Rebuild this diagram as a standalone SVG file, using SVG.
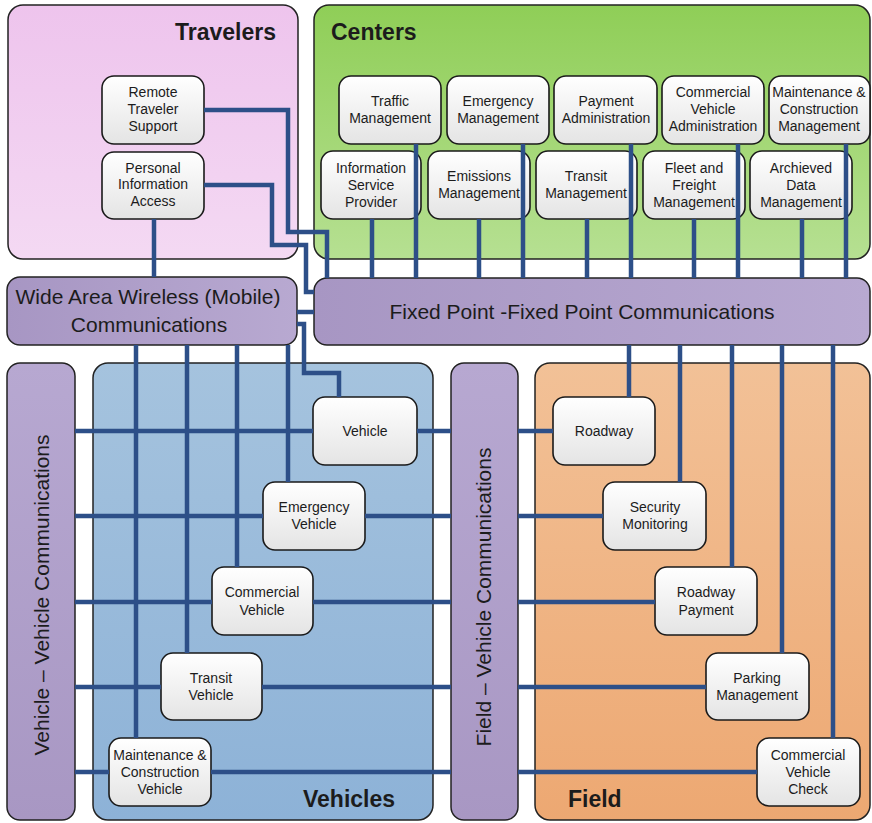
<svg xmlns="http://www.w3.org/2000/svg" width="872" height="823" viewBox="0 0 872 823">
<defs>
<linearGradient id="gNode" x1="0" y1="0" x2="0" y2="1"><stop offset="0" stop-color="#ffffff"/><stop offset="1" stop-color="#e4e4e4"/></linearGradient>
<linearGradient id="gTrav" x1="0" y1="0" x2="0" y2="1"><stop offset="0" stop-color="#eec4ed"/><stop offset="1" stop-color="#f4d9f3"/></linearGradient>
<linearGradient id="gCent" x1="0" y1="0" x2="0" y2="1"><stop offset="0" stop-color="#8fce57"/><stop offset="1" stop-color="#b6e092"/></linearGradient>
<linearGradient id="gCommH" x1="0" y1="0" x2="1" y2="0"><stop offset="0" stop-color="#a796c3"/><stop offset="1" stop-color="#b8a9d1"/></linearGradient>
<linearGradient id="gCommV" x1="0" y1="0" x2="0" y2="1"><stop offset="0" stop-color="#b7a8d1"/><stop offset="1" stop-color="#a897c3"/></linearGradient>
<linearGradient id="gVeh" x1="0" y1="0" x2="0" y2="1"><stop offset="0" stop-color="#a5c3de"/><stop offset="1" stop-color="#8db2d7"/></linearGradient>
<linearGradient id="gField" x1="0" y1="0" x2="0" y2="1"><stop offset="0" stop-color="#f2c197"/><stop offset="1" stop-color="#eda872"/></linearGradient>
</defs>
<style>
.grp{stroke:#222;stroke-width:1.5}
.node rect{fill:url(#gNode);stroke:#1a1a1a;stroke-width:1.6}
text{font-family:"Liberation Sans",Arial,sans-serif;fill:#1c1c1c}
.lbl{font-size:14px;text-anchor:middle}
.title{font-size:23px;font-weight:bold}
.comm{font-size:21px;text-anchor:middle}
.conn path{fill:none;stroke:#2d4f88;stroke-width:4.5}
</style>
<rect width="872" height="823" fill="#ffffff"/>

<!-- Group areas -->
<g id="travelers">
<rect class="grp" x="8" y="5" width="290" height="254" rx="15" fill="url(#gTrav)"/>
<text class="title" x="276" y="40" text-anchor="end">Travelers</text>
</g>
<g id="centers">
<rect class="grp" x="314" y="5" width="556" height="254" rx="15" fill="url(#gCent)"/>
<text class="title" x="331" y="40">Centers</text>
</g>
<g id="wide-area-wireless">
<rect class="grp" x="7" y="277" width="290" height="68" rx="13" fill="url(#gCommH)"/>
<text class="comm" x="148" y="304">Wide Area Wireless (Mobile)</text>
<text class="comm" x="149" y="332">Communications</text>
</g>
<g id="fixed-point">
<rect class="grp" x="314" y="278" width="556" height="67" rx="13" fill="url(#gCommH)"/>
<text class="comm" x="582" y="319">Fixed Point -Fixed Point Communications</text>
</g>
<g id="vehicle-vehicle">
<rect class="grp" x="7" y="363" width="68" height="457" rx="13" fill="url(#gCommV)"/>
<text class="comm" transform="translate(49,595) rotate(-90)">Vehicle – Vehicle Communications</text>
</g>
<g id="vehicles">
<rect class="grp" x="93" y="363" width="340" height="457" rx="15" fill="url(#gVeh)"/>
<text class="title" x="303" y="807">Vehicles</text>
</g>
<g id="field-vehicle">
<rect class="grp" x="451" y="363" width="67" height="457" rx="13" fill="url(#gCommV)"/>
<text class="comm" transform="translate(491,597) rotate(-90)">Field – Vehicle Communications</text>
</g>
<g id="field">
<rect class="grp" x="535" y="363" width="335" height="457" rx="15" fill="url(#gField)"/>
<text class="title" x="568" y="807">Field</text>
</g>

<!-- Travelers nodes -->
<g id="remote-traveler-support" class="node">
<rect x="102" y="76" width="102" height="68" rx="12"/>
<text class="lbl" x="153" y="97">Remote</text><text class="lbl" x="153" y="114">Traveler</text><text class="lbl" x="153" y="131">Support</text>
</g>
<g id="personal-information-access" class="node">
<rect x="102" y="152" width="102" height="67" rx="12"/>
<text class="lbl" x="153" y="173">Personal</text><text class="lbl" x="153" y="189">Information</text><text class="lbl" x="153" y="206">Access</text>
</g>

<!-- Centers nodes -->
<g id="traffic-management" class="node">
<rect x="339" y="76" width="102" height="68" rx="12"/>
<text class="lbl" x="390" y="106">Traffic</text><text class="lbl" x="390" y="123">Management</text>
</g>
<g id="emergency-management" class="node">
<rect x="447" y="76" width="102" height="68" rx="12"/>
<text class="lbl" x="498" y="106">Emergency</text><text class="lbl" x="498" y="123">Management</text>
</g>
<g id="payment-administration" class="node">
<rect x="554" y="76" width="103" height="68" rx="12"/>
<text class="lbl" x="606" y="106">Payment</text><text class="lbl" x="606" y="123">Administration</text>
</g>
<g id="commercial-vehicle-administration" class="node">
<rect x="662" y="76" width="102" height="68" rx="12"/>
<text class="lbl" x="713" y="97">Commercial</text><text class="lbl" x="713" y="114">Vehicle</text><text class="lbl" x="713" y="131">Administration</text>
</g>
<g id="maintenance-construction-management" class="node">
<rect x="769" y="76" width="101" height="68" rx="12"/>
<text class="lbl" x="819" y="97">Maintenance &amp;</text><text class="lbl" x="819" y="114">Construction</text><text class="lbl" x="819" y="131">Management</text>
</g>
<g id="information-service-provider" class="node">
<rect x="321" y="151" width="100" height="68" rx="12"/>
<text class="lbl" x="371" y="173">Information</text><text class="lbl" x="371" y="190">Service</text><text class="lbl" x="371" y="207">Provider</text>
</g>
<g id="emissions-management" class="node">
<rect x="428" y="151" width="102" height="68" rx="12"/>
<text class="lbl" x="479" y="181">Emissions</text><text class="lbl" x="479" y="198">Management</text>
</g>
<g id="transit-management" class="node">
<rect x="536" y="151" width="101" height="68" rx="12"/>
<text class="lbl" x="586" y="181">Transit</text><text class="lbl" x="586" y="198">Management</text>
</g>
<g id="fleet-freight-management" class="node">
<rect x="643" y="151" width="102" height="68" rx="12"/>
<text class="lbl" x="694" y="173">Fleet and</text><text class="lbl" x="694" y="190">Freight</text><text class="lbl" x="694" y="207">Management</text>
</g>
<g id="archived-data-management" class="node">
<rect x="750" y="151" width="102" height="68" rx="12"/>
<text class="lbl" x="801" y="173">Archieved</text><text class="lbl" x="801" y="190">Data</text><text class="lbl" x="801" y="207">Management</text>
</g>

<!-- Vehicles nodes -->
<g id="vehicle" class="node">
<rect x="313" y="397" width="104" height="68" rx="12"/>
<text class="lbl" x="365" y="436">Vehicle</text>
</g>
<g id="emergency-vehicle" class="node">
<rect x="263" y="482" width="102" height="68" rx="12"/>
<text class="lbl" x="314" y="512">Emergency</text><text class="lbl" x="314" y="529">Vehicle</text>
</g>
<g id="commercial-vehicle" class="node">
<rect x="212" y="567" width="101" height="68" rx="12"/>
<text class="lbl" x="262" y="597">Commercial</text><text class="lbl" x="262" y="615">Vehicle</text>
</g>
<g id="transit-vehicle" class="node">
<rect x="161" y="653" width="101" height="67" rx="12"/>
<text class="lbl" x="211" y="683">Transit</text><text class="lbl" x="211" y="700">Vehicle</text>
</g>
<g id="maintenance-construction-vehicle" class="node">
<rect x="109" y="738" width="102" height="68" rx="12"/>
<text class="lbl" x="160" y="760">Maintenance &amp;</text><text class="lbl" x="160" y="777">Construction</text><text class="lbl" x="160" y="794">Vehicle</text>
</g>

<!-- Field nodes -->
<g id="roadway" class="node">
<rect x="553" y="397" width="102" height="68" rx="12"/>
<text class="lbl" x="604" y="436">Roadway</text>
</g>
<g id="security-monitoring" class="node">
<rect x="603" y="482" width="103" height="68" rx="12"/>
<text class="lbl" x="655" y="512">Security</text><text class="lbl" x="655" y="529">Monitoring</text>
</g>
<g id="roadway-payment" class="node">
<rect x="655" y="567" width="102" height="68" rx="12"/>
<text class="lbl" x="706" y="597">Roadway</text><text class="lbl" x="706" y="615">Payment</text>
</g>
<g id="parking-management" class="node">
<rect x="706" y="653" width="103" height="67" rx="12"/>
<text class="lbl" x="757" y="683">Parking</text><text class="lbl" x="757" y="700">Management</text>
</g>
<g id="commercial-vehicle-check" class="node">
<rect x="757" y="738" width="103" height="68" rx="12"/>
<text class="lbl" x="808" y="760">Commercial</text><text class="lbl" x="808" y="777">Vehicle</text><text class="lbl" x="808" y="794">Check</text>
</g>

<!-- Connectors -->
<g id="connectors" class="conn">
<path d="M204,110 H288 V232 H327 V278"/>
<path d="M204,185 H272 V245 H306 V292 H314"/>
<path d="M154,219 V277"/>
<path d="M297,312 H314"/>
<path d="M297,324 H304 V373 H339 V397"/>
<path d="M416,144 V278 M523,144 V278 M631,144 V278 M738,144 V278 M846,144 V278"/>
<path d="M372,219 V278 M479,219 V278 M587,219 V278 M694,219 V278 M802,219 V278"/>
<path d="M288,345 V482 M237,345 V567 M187,345 V653 M136,345 V738"/>
<path d="M629,345 V397 M680,345 V482 M732,345 V567 M782,345 V653 M833,345 V738"/>
<path d="M75,431 H313 M417,431 H451 M518,431 H553"/>
<path d="M75,516 H263 M365,516 H451 M518,516 H603"/>
<path d="M75,602 H212 M313,602 H451 M518,602 H655"/>
<path d="M75,687 H161 M262,687 H451 M518,687 H706"/>
<path d="M75,772 H109 M211,772 H451 M518,772 H757"/>
</g>
</svg>
